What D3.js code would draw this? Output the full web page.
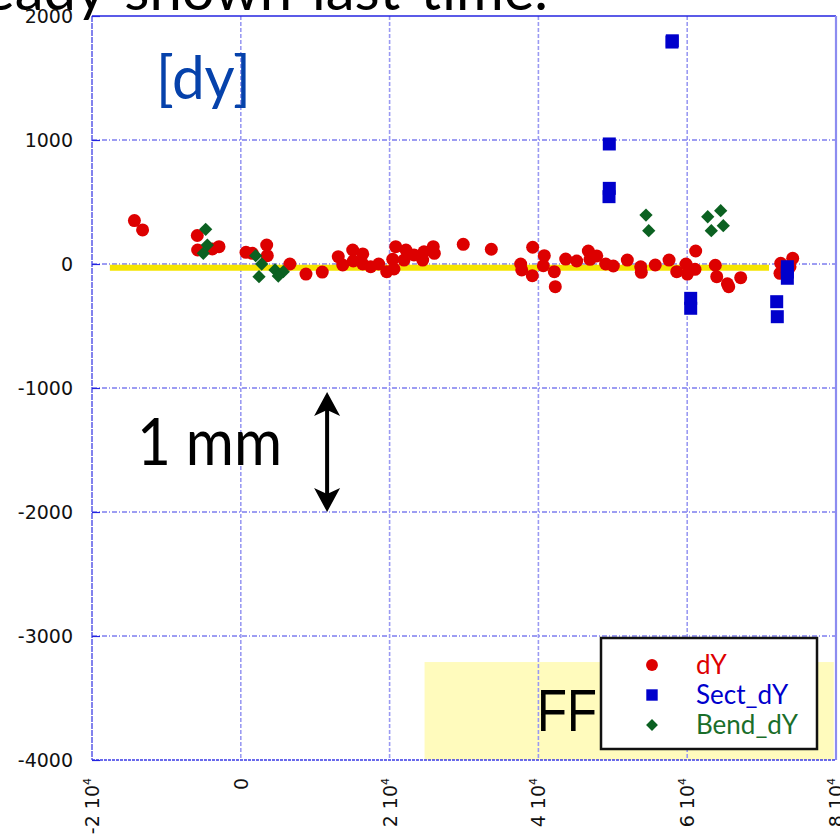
<!DOCTYPE html>
<html>
<head>
<meta charset="utf-8">
<script src="https://cdn.jsdelivr.net/npm/d3@7"></script>
<style>
  body { margin: 0; background: #fff; }
  svg { display: block; }
</style>
</head>
<body>
<svg id="chart"></svg>
<script>
// values
const dyX = [-14300, -13200, -5850, -5800, -3830, -2930, 700, 1550, 3480, 3560, 6600, 8760, 10950, 13100, 13700,
  15040, 15120, 16390, 16390, 17460, 18530, 19610, 20420, 20590, 20820, 22200, 21940, 23280, 24450, 24620,
  25870, 26010, 29900, 33670, 37620, 37760, 39230, 39180, 40790, 40660, 42140, 42270, 43670, 45150, 46710,
  46940, 47840, 49050, 50070, 51950, 53750, 53830, 55710, 57560, 58590, 59840, 60020, 61050, 61140, 63780,
  63970, 65400, 65580, 67190, 72570, 72470, 74180, 73820];
const dyY = [350, 275, 230, 113, 121, 140, 94, 86, 153, 67, 0, -81, -65, 59, -8,
  113, 24, 81, 0, -22, 0, -62, 38, -40, 140, 113, 32, 73, 32, 99,
  140, 86, 159, 119, 0, -48, 135, -94, 67, -14, -62, -183, 40, 24, 105,
  38, 65, 0, -16, 32, -22, -67, -8, 32, -62, 0, -81, -43, 105, -10,
  -102, -160, -183, -110, 6, -75, 46, -22];

const sectX = [58000, 57950, 49530, 49530, 49490, 60470, 60470, 72030, 72110, 73460, 73460, 73460];
const sectY = [1800, 1790, 968, 610, 543, -277, -357, -304, -425, -22, -65, -115];

const bendX = [-4720, -4500, -5040, 2000, 2810, 2450, 4600, 5710, 5040, 54460, 54830, 62760, 64500, 63240, 64850];
const bendY = [280, 153, 86, 67, 0, -102, -48, -62, -97, 395, 269, 381, 430, 269, 309];

const refLineX = [-17600, 71000];
const refLineY = -30;

const yTicks = [2000, 1000, 0, -1000, -2000, -3000, -4000];
const xTicks = [-20000, 0, 20000, 40000, 60000, 80000];
const xTickLabels = [["-2 10", "4"], ["0", ""], ["2 10", "4"], ["4 10", "4"], ["6 10", "4"], ["8 10", "4"]];

const legendNames = ["dY", "Sect_dY", "Bend_dY"];
const legendColors = ["#dd0000", "#0000cc", "#0b6121"];

const width = 840, height = 838;
const svg = d3.select("#chart").attr("width", width).attr("height", height);

const x = d3.scaleLinear().domain([-20000, 80000]).range([92, 836]);
const y = d3.scaleLinear().domain([-4000, 2000]).range([760, 16]);

// slide title, cut off at the top
svg.append("text")
  .attr("x", 548).attr("y", 10)
  .attr("text-anchor", "end")
  .attr("font-family", "Lato, sans-serif")
  .attr("font-size", 58)
  .attr("word-spacing", 5)
  .attr("fill", "#000")
  .text("already shown last time.");

// FF shaded area
svg.append("rect")
  .attr("x", x(24700)).attr("y", y(-3210))
  .attr("width", x(79700) - x(24700)).attr("height", y(-4000) - y(-3210))
  .attr("fill", "#fffbbd");

svg.append("text")
  .attr("x", 537).attr("y", 731)
  .attr("font-family", "'Liberation Sans', Arial, sans-serif")
  .attr("font-size", 60)
  .attr("textLength", 60)
  .attr("lengthAdjust", "spacingAndGlyphs")
  .attr("fill", "#000")
  .text("FF");

// grid
svg.append("g")
  .selectAll("line")
  .data(yTicks.filter(d => d < 2000 && d > -4000))
  .join("line")
  .attr("x1", x(-20000)).attr("x2", x(80000))
  .attr("y1", d => y(d)).attr("y2", d => y(d))
  .attr("stroke", "#3a3ae6")
  .attr("stroke-width", 1)
  .attr("stroke-dasharray", "5,2,1,2");

svg.append("g")
  .selectAll("line")
  .data(xTicks.filter(d => d > -20000 && d < 80000))
  .join("line")
  .attr("x1", d => x(d)).attr("x2", d => x(d))
  .attr("y1", y(2000)).attr("y2", y(-4000))
  .attr("stroke", "#9a9af2")
  .attr("stroke-width", 1.6)
  .attr("stroke-dasharray", "4,2");

// frame
svg.append("line").attr("x1", x(-20000)).attr("x2", x(80000)).attr("y1", y(2000)).attr("y2", y(2000))
  .attr("stroke", "#2424e0").attr("stroke-width", 1.5);
svg.append("line").attr("x1", x(-20000)).attr("x2", x(-20000)).attr("y1", y(2000)).attr("y2", y(-4000))
  .attr("stroke", "#5a5ae8").attr("stroke-width", 1.5).attr("stroke-dasharray", "6,1");
svg.append("line").attr("x1", x(80000)).attr("x2", x(80000)).attr("y1", y(2000)).attr("y2", y(-4000))
  .attr("stroke", "#8c8cf0").attr("stroke-width", 2.2);
svg.append("line").attr("x1", x(-20000)).attr("x2", x(80000)).attr("y1", y(-4000)).attr("y2", y(-4000))
  .attr("stroke", "#3a3ae6").attr("stroke-width", 1.4).attr("stroke-dasharray", "3,1");

// axes
const yAxis = svg.append("g")
  .attr("transform", `translate(${x(-20000)},0)`)
  .call(d3.axisLeft(y).tickValues(yTicks).tickSizeInner(-8).tickSizeOuter(0).tickPadding(20).tickFormat(d => String(d)));
yAxis.select(".domain").remove();
yAxis.selectAll(".tick line").attr("stroke", "#2424e0").attr("stroke-width", 1.2);
yAxis.selectAll("text")
  .attr("x", -19)
  .attr("font-family", "'DejaVu Sans', sans-serif")
  .attr("font-size", 19)
  .attr("fill", "#111");

const xAxis = svg.append("g")
  .attr("transform", `translate(0,${y(-4000)})`)
  .call(d3.axisBottom(x).tickValues(xTicks).tickSize(0).tickFormat(""));
xAxis.select(".domain").remove();

const xLab = svg.append("g")
  .selectAll("text")
  .data(xTicks)
  .join("text")
  .attr("transform", d => `translate(${x(d) + 7},778) rotate(-90)`)
  .attr("text-anchor", "end")
  .attr("font-family", "'DejaVu Sans', sans-serif")
  .attr("font-size", 19)
  .attr("fill", "#111");
xLab.append("tspan").text((d, i) => xTickLabels[i][0]);
xLab.append("tspan")
  .attr("font-size", 11)
  .attr("dy", -8)
  .text((d, i) => xTickLabels[i][1]);

// reference line
svg.append("line")
  .attr("x1", x(refLineX[0])).attr("x2", x(refLineX[1]))
  .attr("y1", y(refLineY)).attr("y2", y(refLineY))
  .attr("stroke", "#f5e400")
  .attr("stroke-width", 6);

// points
const dyData = dyX.map((d, i) => ({ x: d, y: dyY[i] }));
const sectData = sectX.map((d, i) => ({ x: d, y: sectY[i] }));
const bendData = bendX.map((d, i) => ({ x: d, y: bendY[i] }));

svg.append("g")
  .selectAll("circle")
  .data(dyData)
  .join("circle")
  .attr("cx", d => x(d.x))
  .attr("cy", d => y(d.y))
  .attr("r", 6.5)
  .attr("fill", legendColors[0]);

svg.append("g")
  .selectAll("rect")
  .data(sectData)
  .join("rect")
  .attr("x", d => x(d.x) - 6.5)
  .attr("y", d => y(d.y) - 6.5)
  .attr("width", 13)
  .attr("height", 13)
  .attr("fill", legendColors[1]);

svg.append("g")
  .selectAll("path")
  .data(bendData)
  .join("path")
  .attr("d", d3.symbol(d3.symbolSquare, 88))
  .attr("transform", d => `translate(${x(d.x)},${y(d.y)}) rotate(45)`)
  .attr("fill", legendColors[2]);

// annotations
svg.append("text")
  .attr("x", 156).attr("y", 99)
  .attr("font-family", "Lato, sans-serif")
  .attr("font-size", 60)
  .attr("textLength", 95)
  .attr("lengthAdjust", "spacingAndGlyphs")
  .attr("fill", "#0642ab")
  .text("[dy]");

svg.append("text")
  .attr("x", 137).attr("y", 465)
  .attr("font-family", "Lato, sans-serif")
  .attr("font-size", 66)
  .attr("textLength", 145)
  .attr("lengthAdjust", "spacingAndGlyphs")
  .attr("fill", "#000")
  .text("1 mm");

const ax = x(11600);
const arrowTop = y(-1000) + 4, arrowBot = y(-2000);
svg.append("line")
  .attr("x1", ax).attr("x2", ax)
  .attr("y1", arrowTop + 12).attr("y2", arrowBot - 12)
  .attr("stroke", "#000").attr("stroke-width", 4);
svg.append("path")
  .attr("d", `M${ax},${arrowTop} L${ax + 13},${arrowTop + 24} L${ax},${arrowTop + 18} L${ax - 13},${arrowTop + 24} Z`)
  .attr("fill", "#000");
svg.append("path")
  .attr("d", `M${ax},${arrowBot} L${ax + 13},${arrowBot - 24} L${ax},${arrowBot - 18} L${ax - 13},${arrowBot - 24} Z`)
  .attr("fill", "#000");

// legend
const lg = svg.append("g").attr("transform", "translate(601,638)");
lg.append("rect")
  .attr("width", 216).attr("height", 111)
  .attr("fill", "#fff")
  .attr("stroke", "#111")
  .attr("stroke-width", 2.5);

const items = lg.selectAll("g.item")
  .data(legendNames)
  .join("g")
  .attr("class", "item")
  .attr("transform", (d, i) => `translate(0,${27 + i * 30})`);

items.append("path")
  .attr("d", (d, i) => d3.symbol([d3.symbolCircle, d3.symbolSquare, d3.symbolSquare][i], [110, 130, 70][i])())
  .attr("transform", (d, i) => `translate(51,0)${i === 2 ? " rotate(45)" : ""}`)
  .attr("fill", (d, i) => legendColors[i]);

items.append("text")
  .attr("x", 95)
  .attr("dy", "0.35em")
  .attr("font-family", "Lato, sans-serif")
  .attr("font-size", 26)
  .attr("fill", (d, i) => i === 2 ? "#1a6e2a" : legendColors[i])
  .text(d => d);
</script>
</body>
</html>
